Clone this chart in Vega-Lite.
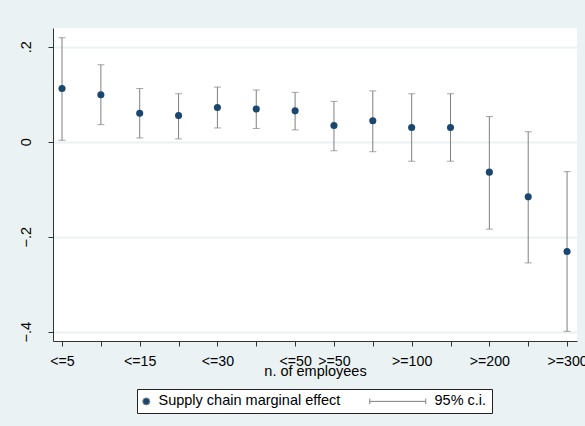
{
  "$schema": "https://vega.github.io/schema/vega-lite/v6.json",
  "width": 524,
  "height": 313,
  "autosize": "none",
  "padding": {"left": 53, "top": 28, "right": 8, "bottom": 85},
  "background": "#eaf2f3",
  "config": {
    "view": {"stroke": null, "fill": "white"},
    "font": "Liberation Sans",
    "axis": {"labelFont": "Liberation Sans", "titleFont": "Liberation Sans", "labelColor": "black", "titleColor": "black"}
  },
  "data": {
    "values": [
      {"n": 1, "b": 0.112, "lo": 0.003, "hi": 0.219, "series": "Supply chain marginal effect"},
      {"n": 2, "b": 0.099, "lo": 0.036, "hi": 0.162, "series": "Supply chain marginal effect"},
      {"n": 3, "b": 0.060, "lo": 0.008, "hi": 0.112, "series": "Supply chain marginal effect"},
      {"n": 4, "b": 0.055, "lo": 0.006, "hi": 0.101, "series": "Supply chain marginal effect"},
      {"n": 5, "b": 0.072, "lo": 0.029, "hi": 0.115, "series": "Supply chain marginal effect"},
      {"n": 6, "b": 0.069, "lo": 0.028, "hi": 0.109, "series": "Supply chain marginal effect"},
      {"n": 7, "b": 0.065, "lo": 0.025, "hi": 0.104, "series": "Supply chain marginal effect"},
      {"n": 8, "b": 0.034, "lo": -0.019, "hi": 0.085, "series": "Supply chain marginal effect"},
      {"n": 9, "b": 0.044, "lo": -0.021, "hi": 0.107, "series": "Supply chain marginal effect"},
      {"n": 10, "b": 0.030, "lo": -0.041, "hi": 0.101, "series": "Supply chain marginal effect"},
      {"n": 11, "b": 0.030, "lo": -0.041, "hi": 0.101, "series": "Supply chain marginal effect"},
      {"n": 12, "b": -0.064, "lo": -0.184, "hi": 0.053, "series": "Supply chain marginal effect"},
      {"n": 13, "b": -0.116, "lo": -0.255, "hi": 0.021, "series": "Supply chain marginal effect"},
      {"n": 14, "b": -0.231, "lo": -0.399, "hi": -0.063, "series": "Supply chain marginal effect"}
    ]
  },
  "encoding": {
    "x": {
      "field": "n", "type": "quantitative",
      "scale": {"domain": [0.768, 14.256], "nice": false, "zero": false},
      "axis": {
        "title": "n. of employees",
        "values": [1,2,3,4,5,6,7,8,9,10,11,12,13,14],
        "labelExpr": "datum.value == 1 ? '<=5' : datum.value == 3 ? '<=15' : datum.value == 5 ? '<=30' : datum.value == 7 ? '<=50' : datum.value == 8 ? '>=50' : datum.value == 10 ? '>=100' : datum.value == 12 ? '>=200' : datum.value == 14 ? '>=300' : ''",
        "grid": false,
        "labelFontSize": 14.2,
        "labelPadding": 8,
        "labelOverlap": false,
        "labelFlush": false,
        "tickSize": 5,
        "tickColor": "#333333",
        "domainColor": "#333333",
        "titleFontSize": 14.5,
        "titleFontWeight": "normal",
        "titlePadding": -4
      }
    }
  },
  "layer": [
    {
      "mark": {"type": "rule", "color": "#7f7f7f", "strokeWidth": 1},
      "encoding": {
        "y": {"field": "lo", "type": "quantitative"},
        "y2": {"field": "hi"}
      }
    },
    {
      "mark": {"type": "tick", "orient": "horizontal", "color": "#7f7f7f", "size": 7, "thickness": 1},
      "encoding": {"y": {"field": "lo", "type": "quantitative"}}
    },
    {
      "mark": {"type": "tick", "orient": "horizontal", "color": "#7f7f7f", "size": 7, "thickness": 1},
      "encoding": {"y": {"field": "hi", "type": "quantitative"}}
    },
    {
      "mark": {"type": "point", "filled": true, "opacity": 1, "size": 50},
      "encoding": {
        "y": {
          "field": "b", "type": "quantitative",
          "scale": {"domain": [-0.4194, 0.2394], "nice": false, "zero": false},
          "axis": {
            "title": null,
            "values": [-0.4, -0.2, 0, 0.2],
            "labelExpr": "datum.value == 0 ? '0' : replace(format(datum.value, '.1f'), '0.', '.')",
            "labelAngle": -90,
            "labelFontSize": 14.5,
            "labelPadding": 15,
            "tickSize": 5,
            "tickColor": "#333333",
            "domainColor": "#333333",
            "grid": true,
            "gridColor": "#eaf2f3",
            "gridWidth": 2
          }
        },
        "color": {
          "field": "series", "type": "nominal",
          "scale": {"domain": ["Supply chain marginal effect", "95% c.i."], "range": ["#1a476f", "#7f7f7f"]},
          "legend": {
            "title": null,
            "orient": "none",
            "legendX": 84,
            "legendY": 361,
            "direction": "horizontal",
            "labelFont": "Liberation Sans",
            "labelFontSize": 14.5,
            "labelColor": "black",
            "labelLimit": 400,
            "labelOffset": 5,
            "symbolOffset": -3,
            "symbolSize": 49,
            "symbolStrokeColor": "#7f7f7f",
            "symbolStrokeWidth": 1,
            "columnPadding": 26,
            "padding": 5,
            "fillColor": "white",
            "strokeColor": "#222222"
          }
        },
        "shape": {
          "field": "series", "type": "nominal",
          "scale": {"domain": ["Supply chain marginal effect", "95% c.i."], "range": ["circle", "M-15,0H1M-15,-0.8V0.8M1,-0.8V0.8"]}
        }
      }
    }
  ]
}
